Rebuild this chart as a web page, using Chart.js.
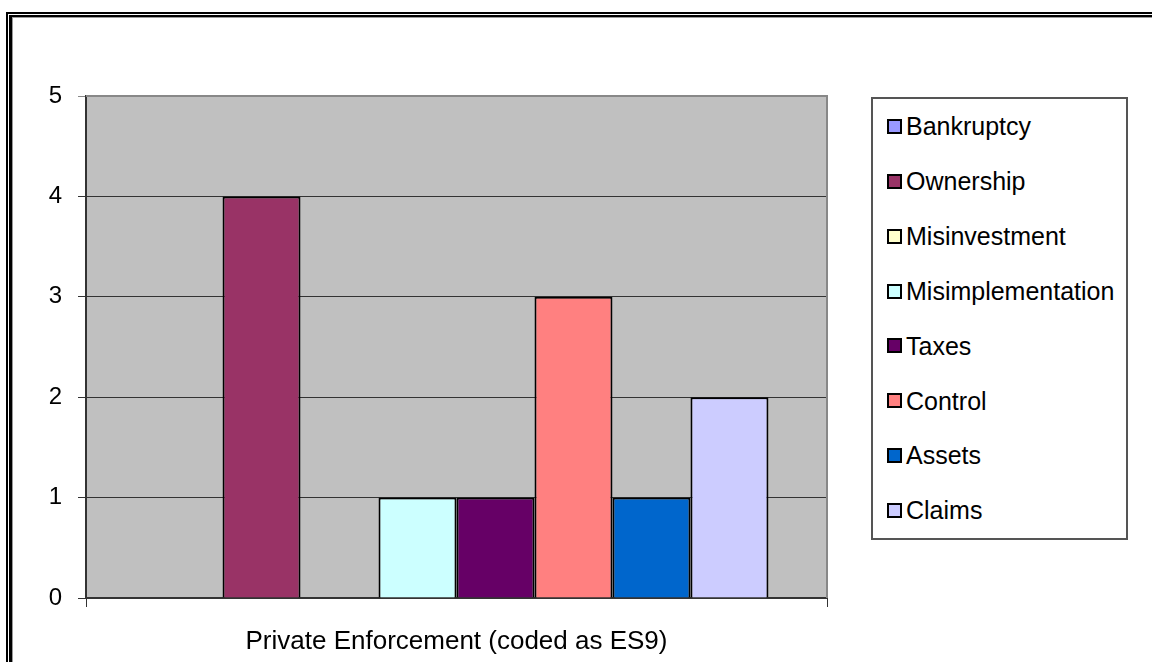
<!DOCTYPE html>
<html>
<head>
<meta charset="utf-8">
<script src="https://cdn.jsdelivr.net/npm/chart.js@4.4.1/dist/chart.umd.min.js"></script>
<style>
  html, body { margin: 0; padding: 0; background: #fff; }
  body { width: 1152px; height: 662px; position: relative; overflow: hidden; font-family: "Liberation Sans", Arial, sans-serif; }
  .frame1 { position: absolute; left: 6px; top: 12px; width: 1200px; height: 700px; border-left: 2px solid #000; border-top: 2px solid #000; }
  .frame2 { position: absolute; left: 9px; top: 15px; width: 1200px; height: 700px; border-left: 3px solid #000; border-top: 2px solid #000; }
  .frame3 { position: absolute; left: 12px; top: 17px; width: 1200px; height: 700px; border-left: 1px solid #999; border-top: 1px solid #999; }
  #wrap { position: absolute; left: 0; top: 0; width: 1152px; height: 662px; }
  #legend { position: absolute; left: 871px; top: 97px; width: 253px; height: 439px; border: 2px solid #555; background: #fff; }
  .item { position: absolute; left: 14px; height: 30px; line-height: 30px; font-size: 25px; color: #000; white-space: nowrap; }
  .sw { display: inline-block; width: 11px; height: 11px; border: 2px solid #000; vertical-align: middle; margin-right: 4px; position: relative; top: -2px; }
</style>
</head>
<body>
<div class="frame1"></div>
<div class="frame2"></div>
<div class="frame3"></div>
<div id="wrap"><canvas id="chart" width="1152" height="662"></canvas></div>
<div id="legend"></div>
<script>
// dados do gráfico
const categories = ['Private Enforcement (coded as ES9)'];
const seriesNames = ['Bankruptcy', 'Ownership', 'Misinvestment', 'Misimplementation', 'Taxes', 'Control', 'Assets', 'Claims'];
const seriesValues = [0, 4, 0, 1, 1, 3, 1, 2];
const yMin = 0;
const yMax = 5;
const yStep = 1;

// cores das séries (estilo Excel)
const seriesColors = ['#9999FF', '#993366', '#FFFFCC', '#CCFFFF', '#660066', '#FF8080', '#0066CC', '#CCCCFF'];

// fundo cinza da área do gráfico
const plotBg = {
    id: 'plotBg',
    beforeDraw(chart) {
        const a = chart.chartArea;
        const c = chart.ctx;
        c.save();
        c.fillStyle = '#C0C0C0';
        c.fillRect(a.left, a.top, a.right - a.left, a.bottom - a.top);
        c.restore();
    },
    afterDraw(chart) {
        const a = chart.chartArea;
        const c = chart.ctx;
        c.save();
        c.strokeStyle = '#888';
        c.lineWidth = 2;
        c.beginPath();
        c.moveTo(a.left, a.top);
        c.lineTo(a.right, a.top);
        c.lineTo(a.right, a.bottom);
        c.stroke();
        c.restore();
    }
};

const datasets = seriesNames.map(function(name, i) {
    return {
        label: name,
        data: [seriesValues[i]],
        backgroundColor: seriesColors[i],
        borderColor: '#000',
        borderWidth: 2,
        borderSkipped: 'start',
        categoryPercentage: 0.842,
        barPercentage: 1.0
    };
});

const ctx = document.getElementById('chart').getContext('2d');
const chart = new Chart(ctx, {
    type: 'bar',
    data: { labels: categories, datasets: datasets },
    options: {
        responsive: false,
        animation: false,
        devicePixelRatio: 1,
        layout: { padding: { left: 0, right: 325, top: 96, bottom: 0 } },
        plugins: {
            legend: { display: false },
            tooltip: { enabled: false }
        },
        scales: {
            x: {
                offset: true,
                grid: { drawOnChartArea: false, drawTicks: true, tickLength: 9, color: '#333', lineWidth: 1 },
                border: { display: true, color: '#333', width: 2 },
                ticks: { color: '#000', font: { family: 'Liberation Sans', size: 26 }, padding: 19, maxRotation: 0 },
                afterFit: function(scale) { scale.height = 64; }
            },
            y: {
                min: yMin,
                max: yMax,
                grid: {
                    color: function(c) { return c.tick && c.tick.value === yMax ? '#888' : '#333'; },
                    lineWidth: 1,
                    tickLength: 8,
                    drawTicks: true
                },
                border: { display: true, color: '#333', width: 2 },
                ticks: { stepSize: yStep, color: '#000', font: { family: 'Liberation Sans', size: 24 }, padding: 16 },
                afterFit: function(scale) { scale.width = 86; }
            }
        }
    },
    plugins: [plotBg]
});

// legenda em HTML, com caixa como no Excel
const legend = document.getElementById('legend');
seriesNames.forEach(function(name, i) {
    const item = document.createElement('div');
    item.className = 'item';
    item.style.top = (28 + i * 54.9 - 15 - 1) + 'px';
    item.innerHTML = '<span class="sw" style="background:' + seriesColors[i] + '"></span>' + name;
    legend.appendChild(item);
});
</script>
</body>
</html>
